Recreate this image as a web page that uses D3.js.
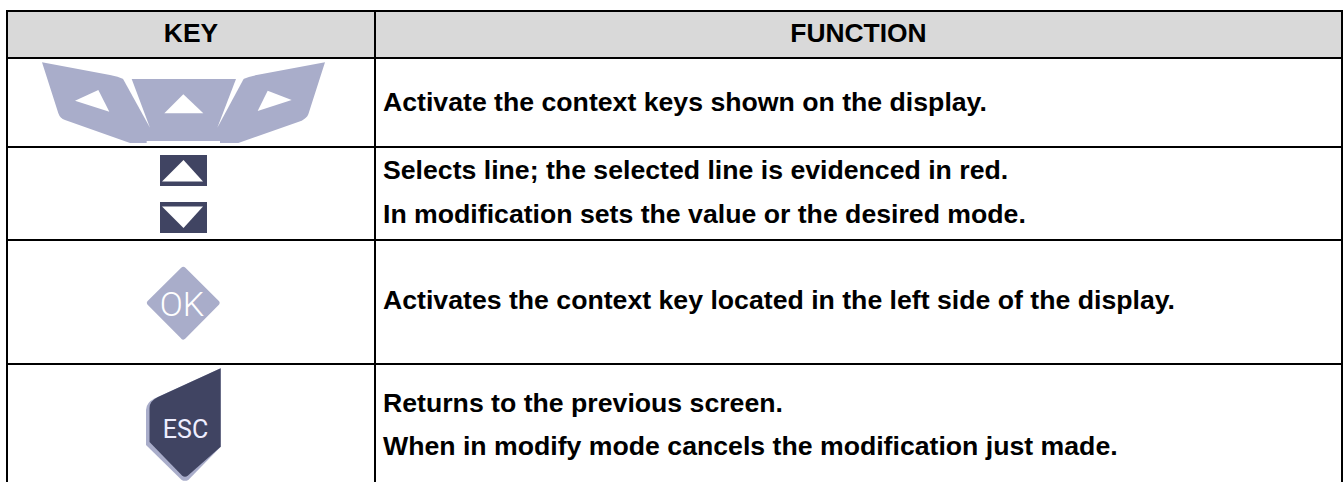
<!DOCTYPE html>
<html><head><meta charset="utf-8">
<script src="https://cdn.jsdelivr.net/npm/d3@7"></script>
<style>html,body{margin:0;padding:0;background:#fff}svg{display:block}</style>
</head><body><svg id="c" width="1344" height="482"></svg>
<script>
const headers = ["KEY", "FUNCTION"];
const rowKeys = ["context", "arrows", "ok", "esc"];
const functionLines = [
  ["Activate the context keys shown on the display."],
  ["Selects line; the selected line is evidenced in red.", "In modification sets the value or the desired mode."],
  ["Activates the context key located in the left side of the display."],
  ["Returns to the previous screen.", "When in modify mode cancels the modification just made."]
];

const W = 1344, H = 482;
const svg = d3.select("#c");
const lineW = 2, font = "'Liberation Sans', Arial, sans-serif";
const light = "#a9adca", dark = "#404462", ink = "#000";

// grid
const x = d3.scaleOrdinal(["left","mid","right"], [7, 375, 1342]);
const y = d3.scaleOrdinal(["top","head",...rowKeys], [11, 58, 147, 240, 364, 482]);

svg.append("rect").attr("x", x("left")).attr("y", y("top"))
  .attr("width", x("right")-x("left")).attr("height", y("head")-y("top")).attr("fill", "#d9d9d9");

// icons
const zoomX = d3.scaleLinear([0,3],[30,31]), zoomY = d3.scaleLinear([0,3],[55,56]);
const line = d3.line().x(d=>d[0]).y(d=>d[1]);
const g = svg.append("g");

// context keys
const P = (a)=>a.map(([u,v])=>[zoomX(u),zoomY(v)]);
const sil = d3.path();
const m=(u,v)=>sil.moveTo(zoomX(u),zoomY(v)), l=(u,v)=>sil.lineTo(zoomX(u),zoomY(v)),
      q=(a,b,u,v)=>sil.quadraticCurveTo(zoomX(a),zoomY(b),zoomX(u),zoomY(v));
m(36,22); l(240,60); q(265,65,280,72); l(640,72); q(655,65,680,60); l(885,22); l(835,178); q(830,190,815,197);
l(625,264); l(570,264); l(570,258); l(350,258); l(350,264); l(300,264); l(105,195); q(90,190,85,175); sil.closePath();
g.append("path").attr("d", sil.toString()).attr("fill", light);
const wedges = [[[278,70],[305,72],[360,218]],[[642,70],[618,72],[562,218]]];
const tris = [[[205,105],[135,137],[238,170]],[[460,118],[403,175],[520,175]],[[713,107],[785,135],[683,168]]];
g.selectAll(".w").data(wedges.concat(tris)).join("path").attr("d",d=>line(P(d))+"Z").attr("fill","#fff");

// arrow keys
const arrows = [
  {r:[160,155,47,31], t:[[183.5,160],[162,181.5],[203,181.5]]},
  {r:[160,202,47,31], t:[[162,206.5],[203,206.5],[183.5,228]]}
];
arrows.forEach(a=>{
  g.append("rect").attr("x",a.r[0]).attr("y",a.r[1]).attr("width",a.r[2]).attr("height",a.r[3]).attr("fill",dark);
  g.append("path").attr("d",line(a.t)+"Z").attr("fill","#fff");
});

// OK key
g.append("path").attr("d",line([[183.3,270],[216.5,303],[183.3,336.5],[150,303]])+"Z")
  .attr("fill",light).attr("stroke",light).attr("stroke-width",6).attr("stroke-linejoin","round");
g.append("text").attr("x",182).attr("y",316).attr("text-anchor","middle").attr("fill","#fff")
  .attr("font-family","Roboto, sans-serif").attr("font-weight",300).attr("font-size",34).text("OK");

// ESC key
const esc = d3.path();
esc.moveTo(220.7,368.3); esc.lineTo(155,398.3); esc.quadraticCurveTo(146,402.7,146,410); esc.lineTo(146,445);
esc.lineTo(181.7,480); esc.quadraticCurveTo(185,481.7,188.3,480); esc.lineTo(220.7,446.7); esc.closePath();
g.append("path").attr("d",esc.toString()).attr("fill",light);
const esc2 = d3.path();
esc2.moveTo(220.7,368.3); esc2.lineTo(158,397); esc2.quadraticCurveTo(149.5,401,149.5,408); esc2.lineTo(149.5,442);
esc2.lineTo(182,475.5); esc2.quadraticCurveTo(185,478,188,475.5); esc2.lineTo(220.7,446.7); esc2.closePath();
g.append("path").attr("d",esc2.toString()).attr("fill",dark);
g.append("text").attr("x",185.5).attr("y",438).attr("text-anchor","middle").attr("fill","#eef")
  .attr("font-family","Roboto, sans-serif").attr("font-size",25).text("ESC");

// rules
const rules = [
  [x("left"),y("top"),x("right"),y("top")],
  [x("left"),y("head"),x("right"),y("head")],
  [x("left"),y("context"),x("right"),y("context")],
  [x("left"),y("arrows"),x("right"),y("arrows")],
  [x("left"),y("ok"),x("right"),y("ok")],
  [x("left"),10,x("left"),H],
  [x("mid"),10,x("mid"),H],
  [x("right"),10,x("right"),H]
];
svg.selectAll(".rule").data(rules).join("line").attr("class","rule")
  .attr("x1",d=>d[0]).attr("y1",d=>d[1]).attr("x2",d=>d[2]).attr("y2",d=>d[3])
  .attr("stroke",ink).attr("stroke-width",lineW);

// texts
const textStyle = (s, size) => s.attr("font-family",font).attr("font-weight",700).attr("font-size",size).attr("fill",ink);
svg.selectAll(".h").data(headers).join("text").attr("class","h").call(textStyle, 26.4)
  .attr("x",(d,i)=>i?(x("mid")+x("right"))/2:(x("left")+x("mid"))/2).attr("y",42).attr("text-anchor","middle").text(d=>d);
const baselines = [[111],[179.3,222.7],[309],[412,454.7]];
functionLines.forEach((ls,i)=>{
  svg.selectAll(".t"+i).data(ls).join("text").attr("class","t"+i).call(textStyle, 26.67)
    .attr("x",383).attr("y",(d,j)=>baselines[i][j]).text(d=>d);
});
</script></body></html>
